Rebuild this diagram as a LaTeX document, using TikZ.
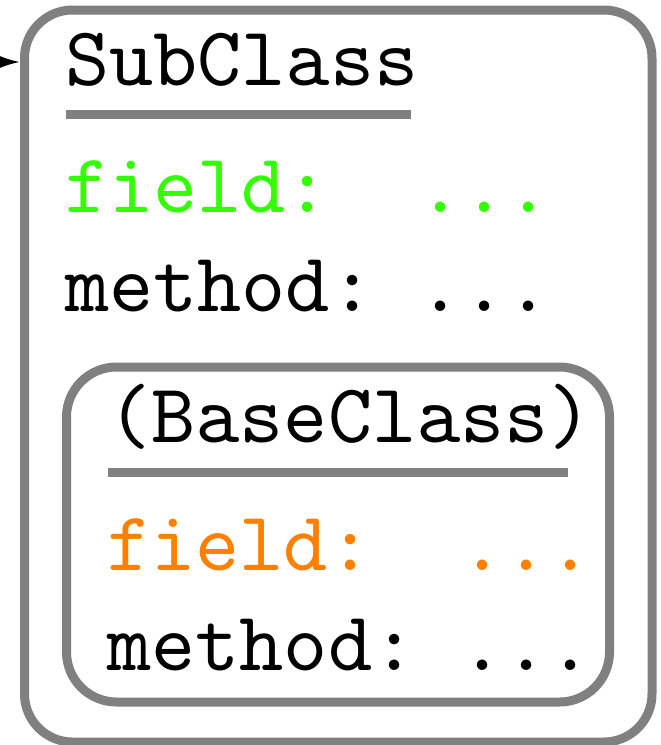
\documentclass[tikz,border=0pt]{standalone}
\usetikzlibrary{arrows.meta}
\definecolor{boxgray}{RGB}{128,128,128}
\definecolor{fieldgreen}{RGB}{51,255,0}
\definecolor{fieldorange}{RGB}{255,128,0}
\font\bigtt=cmtt10 at 84pt
\begin{document}
\begin{tikzpicture}[x=1pt,y=-1pt,
  classbox/.style={draw=boxgray, line width=9pt, rounded corners=48pt, inner sep=0pt, outer sep=4.5pt},
  txt/.style={anchor=base west, inner sep=0pt, outer sep=0pt, font=\bigtt\frenchspacing},
  uline/.style={draw=boxgray, line width=9pt}]
\useasboundingbox (0,0) rectangle (661,745);
% outer class box
\node[classbox, minimum width=627.5pt, minimum height=732pt] (outer) at (338.25,376) {};
% inner class box
\node[classbox, rounded corners=50pt, minimum width=543pt, minimum height=335pt] (inner) at (338,534.5) {};
% texts of SubClass
\node[txt] (subname) at (65.5,85) {SubClass};
\node[txt, text=fieldgreen] (subfield) at (65.5,212) {field:\phantom{mm}...};
\node[txt] (submethod) at (65.5,311) {method:\phantom{m}...};
\coordinate (subulA) at (66,114);
\coordinate (subulB) at (411,114);
\draw[uline] (subulA) -- (subulB);
% texts of BaseClass
\node[txt] (basename) at (107.5,442) {(BaseClass)};
\node[txt, text=fieldorange] (basefield) at (107.5,570) {field:\phantom{mm}...};
\node[txt] (basemethod) at (107.5,670) {method:\phantom{m}...};
\coordinate (baseulA) at (108,472);
\coordinate (baseulB) at (568,472);
\draw[uline] (baseulA) -- (baseulB);
% incoming arrow
\coordinate (src) at (-30,62);
\draw[line width=2pt, -{Latex[length=20pt,width=12pt]}] (src) -- (src -| outer.west);
\end{tikzpicture}
\end{document}
